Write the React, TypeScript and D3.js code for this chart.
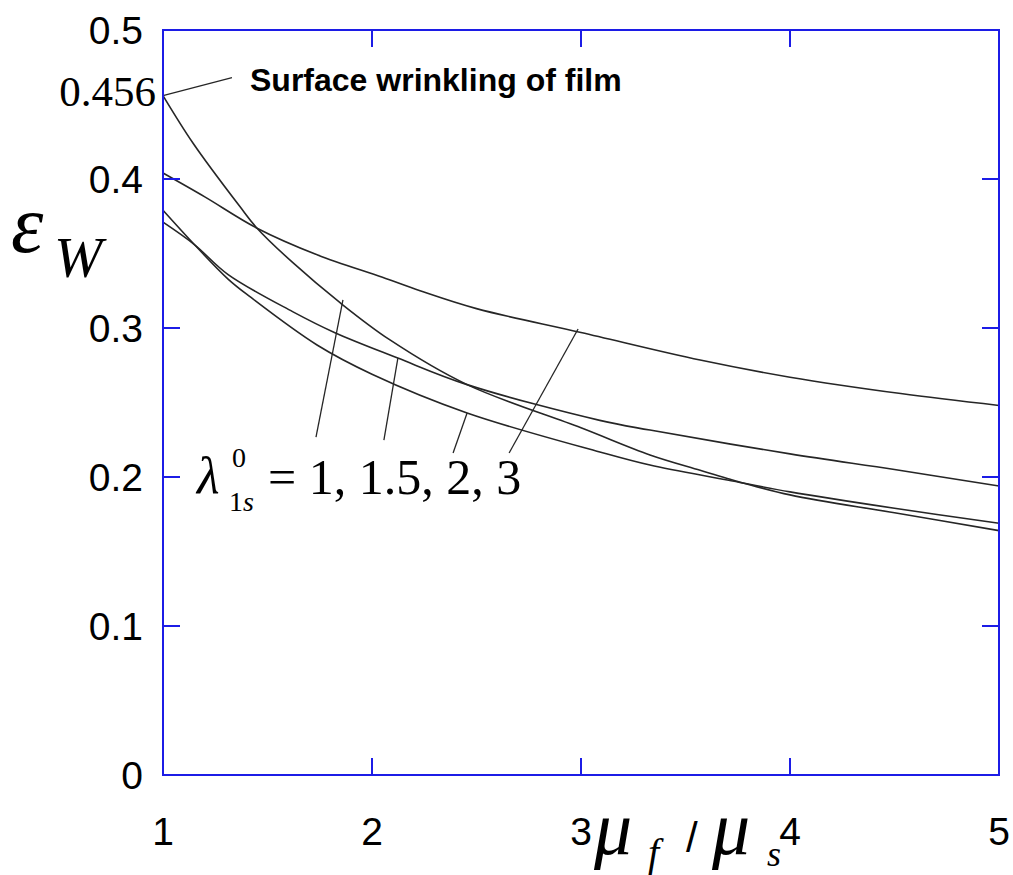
import React from "react";
import * as d3 from "d3";

// ---- data ----
const lam1X = [1, 1.144, 1.368, 1.45, 1.62, 1.847, 2.086, 2.455, 3.0, 3.33, 3.57, 3.7, 4.0, 4.5, 5];
const lam1Y = [0.456, 0.424, 0.3815, 0.367, 0.344, 0.317, 0.292, 0.262, 0.233, 0.2148, 0.2045, 0.199, 0.188, 0.176, 0.164];

const lam15X = [1, 1.15, 1.31, 1.62, 1.82, 2.12, 2.455, 3.09, 3.33, 4.0, 4.5, 5];
const lam15Y = [0.371, 0.356, 0.336, 0.311, 0.297, 0.28, 0.262, 0.238, 0.2315, 0.2155, 0.205, 0.194];

const lam2X = [1, 1.15, 1.31, 1.416, 1.737, 2.0, 2.455, 3.09, 3.33, 3.7, 4.0, 4.5, 5];
const lam2Y = [0.379, 0.356, 0.333, 0.321, 0.2886, 0.269, 0.243, 0.2168, 0.208, 0.198, 0.19, 0.179, 0.169];

const lam3X = [1, 1.2, 1.45, 1.74, 2.05, 2.23, 2.5, 3.0, 3.57, 4.0, 4.53, 5];
const lam3Y = [0.404, 0.388, 0.367, 0.349, 0.334, 0.325, 0.313, 0.297, 0.2785, 0.267, 0.256, 0.248];

const xTicks = [1, 2, 3, 4, 5];
const yTicks = [0, 0.1, 0.2, 0.3, 0.4, 0.5];
const yTickLabels = ["0", "0.1", "0.2", "0.3", "0.4", "0.5"];

// leader lines: [x1, y1, x2, y2] in data units
const leaderFilm = [1, 0.456, 1.33, 0.468];
const leaders = [
  [1.732, 0.2268, 1.861, 0.3188],
  [2.057, 0.2248, 2.124, 0.2799],
  [2.388, 0.2161, 2.455, 0.243],
  [2.656, 0.2161, 2.986, 0.2993],
];

const series = [
  { xs: lam1X, ys: lam1Y },
  { xs: lam15X, ys: lam15Y },
  { xs: lam2X, ys: lam2Y },
  { xs: lam3X, ys: lam3Y },
];

const W = 1013;
const H = 875;
const BLUE = "#1c1ce6";
const SANS = "'Liberation Sans', Arial, sans-serif";
const SERIF = "'Liberation Serif', 'Times New Roman', serif";

export default function App() {
  const x = d3.scaleLinear().domain([1, 5]).range([163, 999]);
  const y = d3.scaleLinear().domain([0, 0.5]).range([775, 30]);
  const line = d3
    .line<[number, number]>()
    .x((d) => x(d[0]))
    .y((d) => y(d[1]))
    .curve(d3.curveCatmullRom.alpha(0.5));

  const tickLen = 17;
  const x0 = x(1), x1 = x(5), y0 = y(0), y1 = y(0.5);

  return (
    <svg
      width={W}
      height={H}
      style={{ position: "absolute", left: 0, top: 0, background: "#fff" }}
    >
      <rect x={0} y={0} width={W} height={H} fill="#fff" />
      {/* curves */}
      {series.map((s, i) => (
        <path
          key={i}
          d={line(s.xs.map((v, k) => [v, s.ys[k]]) as [number, number][]) || ""}
          fill="none"
          stroke="#262626"
          strokeWidth={1.6}
        />
      ))}
      {/* leader lines */}
      <line
        x1={x(leaderFilm[0])}
        y1={y(leaderFilm[1])}
        x2={x(leaderFilm[2])}
        y2={y(leaderFilm[3])}
        stroke="#262626"
        strokeWidth={1.3}
      />
      {leaders.map((l, i) => (
        <line
          key={i}
          x1={x(l[0])}
          y1={y(l[1])}
          x2={x(l[2])}
          y2={y(l[3])}
          stroke="#262626"
          strokeWidth={1.3}
        />
      ))}
      {/* frame */}
      <rect x={x0} y={y1} width={x1 - x0} height={y0 - y1} fill="none" stroke={BLUE} strokeWidth={2} />
      {yTicks.slice(1, -1).map((t) => (
        <g key={"yt" + t}>
          <line x1={x0} x2={x0 + tickLen} y1={y(t)} y2={y(t)} stroke={BLUE} strokeWidth={2} />
          <line x1={x1} x2={x1 - tickLen} y1={y(t)} y2={y(t)} stroke={BLUE} strokeWidth={2} />
        </g>
      ))}
      {xTicks.slice(1, -1).map((t) => (
        <g key={"xt" + t}>
          <line x1={x(t)} x2={x(t)} y1={y0} y2={y0 - tickLen} stroke={BLUE} strokeWidth={2} />
          <line x1={x(t)} x2={x(t)} y1={y1} y2={y1 + tickLen} stroke={BLUE} strokeWidth={2} />
        </g>
      ))}
      {/* y tick labels */}
      {yTicks.map((t, i) => (
        <text
          key={"yl" + t}
          x={143}
          y={y(t)}
          dy="0.36em"
          textAnchor="end"
          fontFamily={SANS}
          fontSize={39}
          fill="#000"
        >
          {yTickLabels[i]}
        </text>
      ))}
      {/* x tick labels */}
      {xTicks.map((t) => (
        <text
          key={"xl" + t}
          x={x(t)}
          y={845}
          textAnchor="middle"
          fontFamily={SANS}
          fontSize={39}
          fill="#000"
        >
          {t}
        </text>
      ))}
      {/* 0.456 label */}
      <text x={156} y={106} textAnchor="end" fontFamily={SERIF} fontSize={43} fill="#000">
        0.456
      </text>
      {/* annotation */}
      <text x={250} y={91} fontFamily={SANS} fontWeight="bold" fontSize={32} fill="#000">
        Surface wrinkling of film
      </text>
      {/* lambda label */}
      <text x={197} y={493} fontFamily={SERIF} fontStyle="italic" fontSize={52} fill="#000">
        λ
      </text>
      <text x={232} y={467} fontFamily={SERIF} fontSize={28} fill="#000">
        0
      </text>
      <text x={229} y={511} fontFamily={SERIF} fontSize={28} fill="#000">
        1<tspan fontStyle="italic">s</tspan>
      </text>
      <text x={268} y={494} fontFamily={SERIF} fontSize={50} fill="#000">
        = 1, 1.5, 2, 3
      </text>
      {/* y axis label */}
      <text x={11} y={252} fontFamily={SERIF} fontStyle="italic" fontSize={82} fill="#000">
        ε
      </text>
      <text x={54} y={277} fontFamily={SERIF} fontStyle="italic" fontSize={58} fill="#000">
        W
      </text>
      {/* x axis label */}
      <text x={594} y={854} fontFamily={SERIF} fontStyle="italic" fontSize={76} fill="#000">
        μ
      </text>
      <text x={648} y={866} fontFamily={SERIF} fontStyle="italic" fontSize={40} fill="#000">
        f
      </text>
      <text x={686} y={852} fontFamily={SANS} fontSize={42} fill="#000">
        /
      </text>
      <text x={712} y={854} fontFamily={SERIF} fontStyle="italic" fontSize={76} fill="#000">
        μ
      </text>
      <text x={767} y={866} fontFamily={SERIF} fontStyle="italic" fontSize={36} fill="#000">
        s
      </text>
    </svg>
  );
}
